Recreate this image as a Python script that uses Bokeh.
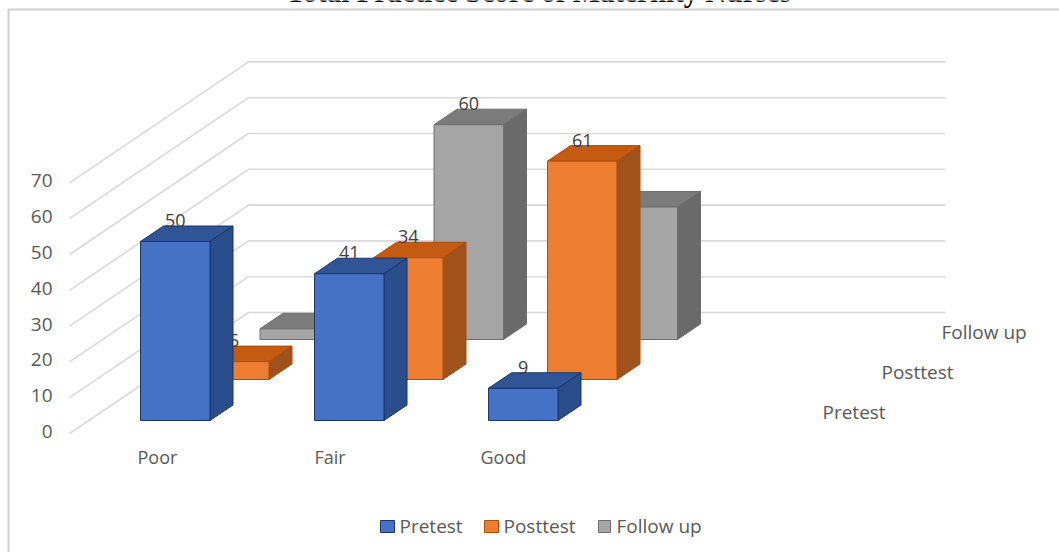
from bokeh.core.properties import value
from bokeh.embed import file_html
from bokeh.models import Range1d
from bokeh.plotting import figure
from bokeh.resources import INLINE

# Chart content
title_text = "Total Practice Score of Maternity Nurses"
categories = ["Poor", "Fair", "Good"]
series_names = ["Pretest", "Posttest", "Follow up"]
pretest = [50, 41, 9]
posttest = [5, 34, 61]
follow_up = [3, 60, 37]
# Value labels that the chart prints; the others sit behind nearer columns
pretest_labels = [True, True, True]
posttest_labels = [True, True, True]
follow_up_labels = [False, True, False]
value_ticks = [0, 10, 20, 30, 40, 50, 60, 70]

# Projection of the pseudo-3D scene, in page pixels
W, H = 1059, 552
UNIT = 3.58           # pixels per score point
BASE_Y = 420          # front floor of the nearest row
BAR_W = 69.5
GROUP_STEP = 174
FIRST_X = 140
ROW_DX = [0, 59, 119.5]
ROW_DY = [0, 41, 81]
DEPTH_DX, DEPTH_DY = 23, 15.5

FACE = ["#4472c4", "#ed7d31", "#a5a5a5"]
TOP = ["#2f5597", "#c55a11", "#7b7b7b"]
SIDE = ["#2a4d8c", "#a0521c", "#6a6a6a"]
EDGE = ["#1a3468", "#a94e0e", "#6e6e6e"]
TEXT = "#595959"
GRID = "#d9d9d9"
FONT = value("Open Sans")

p = figure(width=W, height=H, output_backend="svg", toolbar_location=None,
           x_range=Range1d(0, W), y_range=Range1d(-(H - BASE_Y) / UNIT, BASE_Y / UNIT),
           min_border=0, outline_line_color=None)
p.axis.visible = False
p.grid.visible = False


def sy(pixel_y):
    """Score-axis coordinate of a page pixel row."""
    return (BASE_Y - pixel_y) / UNIT


# Panel frame
p.line([8, 8, W], [sy(H), sy(9), sy(9)], line_color="#cfcfcf", line_width=2)

# Gridlines: diagonal wall then back wall for every tick
for tick in value_ticks:
    front_y = sy(433) + tick
    back_y = sy(312) + tick
    p.line([69, 248, 945], [front_y, back_y, back_y], line_color=GRID, line_width=1.6)


def column(row, cat, val, labelled):
    x0 = FIRST_X + ROW_DX[row] + GROUP_STEP * cat
    x1 = x0 + BAR_W
    y0 = sy(BASE_Y - ROW_DY[row])
    y1 = y0 + val
    dx, dy = DEPTH_DX, DEPTH_DY / UNIT
    p.patch([x0, x1, x1 + dx, x0 + dx], [y1, y1, y1 + dy, y1 + dy],
            fill_color=TOP[row], line_color=EDGE[row], line_width=1)
    p.patch([x1, x1 + dx, x1 + dx, x1], [y0, y0 + dy, y1 + dy, y1],
            fill_color=SIDE[row], line_color=EDGE[row], line_width=1)
    p.quad(left=x0, right=x1, bottom=y0, top=y1,
           fill_color=FACE[row], line_color=EDGE[row], line_width=1)
    if labelled:
        p.text([x0 + BAR_W / 2], [y1 + 21 / UNIT], text=[str(val)], text_font=FONT,
               text_font_size="18px", text_color="#404040",
               text_align="center", text_baseline="middle")


# Rows are painted from the back wall forward so nearer columns cover farther ones
rows = [(2, follow_up, follow_up_labels), (1, posttest, posttest_labels), (0, pretest, pretest_labels)]
for row, vals, flags in rows:
    for cat, (val, flag) in enumerate(zip(vals, flags)):
        column(row, cat, val, flag)

# Value axis labels
p.text([52] * len(value_ticks), [sy(431) + t for t in value_ticks],
       text=[str(t) for t in value_ticks], text_font=FONT, text_font_size="19px",
       text_color=TEXT, text_align="right", text_baseline="middle")

# Category labels
p.text([137, 314, 480], [sy(456)] * 3, text=categories, text_font=FONT,
       text_font_size="18px", text_color=TEXT, text_align="left", text_baseline="middle")

# Depth axis labels
p.text([822, 881, 941], [sy(411), sy(371), sy(331)], text=series_names, text_font=FONT,
       text_font_size="19px", text_color=TEXT, text_align="left", text_baseline="middle")

# Legend
p.quad(left=[380, 484, 598], right=[394, 498, 610],
       bottom=[sy(532), sy(532), sy(532)], top=[sy(520), sy(520), sy(520)],
       fill_color=FACE, line_color=EDGE, line_width=1)
p.text([399, 503, 616], [sy(525)] * 3, text=series_names, text_font=FONT,
       text_font_size="19px", text_color=TEXT, text_align="left", text_baseline="middle")

# Title, cut by the top of the page
p.text([538], [sy(-9)], text=[title_text], text_font=value("Liberation Serif"),
       text_font_size="29px", text_font_style="bold", text_color="#000000",
       text_align="center", text_baseline="alphabetic")

open("out.html", "w").write(file_html(p, INLINE))
